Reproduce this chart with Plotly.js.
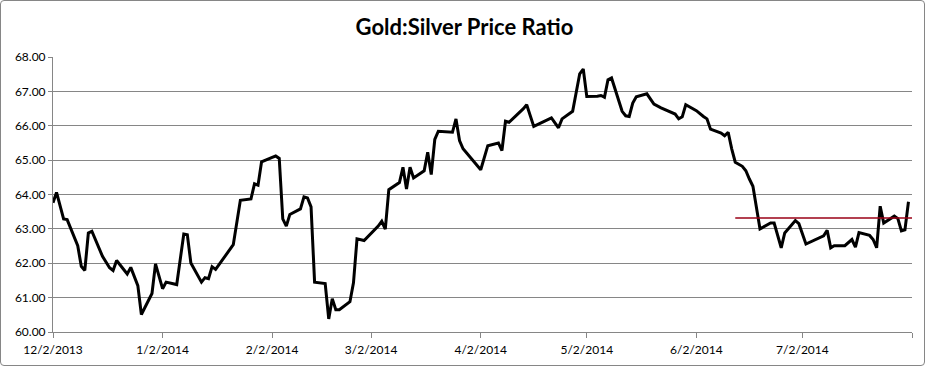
<!DOCTYPE html>
<html>
<head>
<meta charset="utf-8">
<script src="https://cdn.plot.ly/plotly-3.0.1.min.js"></script>
<style>
html,body{margin:0;padding:0;background:#fff;}
#wrap{position:relative;width:929px;height:368px;}
#chart{width:929px;height:368px;}
#frame{position:absolute;left:0;top:0;width:923px;height:364px;border:1px solid #868686;border-radius:4px;pointer-events:none;}
</style>
</head>
<body>
<div id="wrap"><div id="chart"></div><div id="frame"></div></div>
<script>
const dates = [
"2013-12-02","2013-12-03","2013-12-05","2013-12-06","2013-12-09","2013-12-10","2013-12-11","2013-12-12","2013-12-13",
"2013-12-16","2013-12-18","2013-12-19","2013-12-20","2013-12-23","2013-12-24","2013-12-26","2013-12-27","2013-12-30","2013-12-31",
"2014-01-02","2014-01-03","2014-01-06","2014-01-08","2014-01-09","2014-01-10","2014-01-13","2014-01-14","2014-01-15","2014-01-16","2014-01-17",
"2014-01-22","2014-01-24","2014-01-27","2014-01-28","2014-01-29","2014-01-30",
"2014-02-02","2014-02-03","2014-02-04","2014-02-05","2014-02-06","2014-02-07","2014-02-10","2014-02-11","2014-02-12","2014-02-13","2014-02-14",
"2014-02-17","2014-02-18","2014-02-19","2014-02-20","2014-02-21","2014-02-24","2014-02-25","2014-02-26","2014-02-28",
"2014-03-04","2014-03-05","2014-03-06","2014-03-07","2014-03-10","2014-03-11","2014-03-12","2014-03-13","2014-03-14",
"2014-03-17","2014-03-18","2014-03-19","2014-03-20","2014-03-21","2014-03-25","2014-03-26","2014-03-27","2014-03-28",
"2014-04-02","2014-04-04","2014-04-07","2014-04-08","2014-04-09","2014-04-10","2014-04-14","2014-04-15","2014-04-17",
"2014-04-22","2014-04-24","2014-04-25","2014-04-28","2014-04-30","2014-05-01","2014-05-02","2014-05-05","2014-05-06",
"2014-05-07","2014-05-08","2014-05-09","2014-05-12","2014-05-13","2014-05-14","2014-05-15","2014-05-16","2014-05-19",
"2014-05-21","2014-05-23","2014-05-27","2014-05-28","2014-05-29","2014-05-30","2014-06-02","2014-06-04","2014-06-05",
"2014-06-06","2014-06-09","2014-06-10","2014-06-11","2014-06-12","2014-06-13","2014-06-15","2014-06-16","2014-06-17",
"2014-06-18","2014-06-20","2014-06-22","2014-06-23","2014-06-24","2014-06-26","2014-06-27","2014-06-30","2014-07-01",
"2014-07-03","2014-07-08","2014-07-09","2014-07-10","2014-07-11","2014-07-14","2014-07-16","2014-07-17","2014-07-18",
"2014-07-21","2014-07-22","2014-07-23","2014-07-24","2014-07-25","2014-07-28","2014-07-29","2014-07-30","2014-07-31","2014-08-01"
];
const ratio = [
63.76,64.06,63.29,63.27,62.51,61.91,61.79,62.88,62.93,
62.20,61.87,61.79,62.08,61.69,61.88,61.35,60.51,61.12,61.98,
61.26,61.45,61.38,62.85,62.83,62.01,61.45,61.58,61.55,61.90,61.82,
62.54,63.83,63.87,64.31,64.27,64.95,
65.08,65.12,65.05,63.29,63.08,63.42,63.58,63.93,63.90,63.64,61.45,
61.41,60.38,60.97,60.65,60.65,60.88,61.43,62.71,62.66,
63.08,63.22,62.99,64.14,64.35,64.79,64.16,64.79,64.48,
64.69,65.23,64.58,65.60,65.84,65.81,66.20,65.57,65.33,
64.72,65.42,65.50,65.28,66.13,66.10,66.49,66.61,65.98,
66.23,65.94,66.20,66.42,67.51,67.65,66.85,66.86,66.88,
66.83,67.34,67.39,66.42,66.29,66.27,66.66,66.84,66.93,
66.63,66.52,66.34,66.20,66.26,66.61,66.44,66.27,66.20,
65.90,65.79,65.71,65.81,65.33,64.94,64.82,64.69,64.45,
64.24,63.00,63.10,63.17,63.17,62.45,62.88,63.24,63.15,
62.56,62.80,62.96,62.45,62.51,62.51,62.69,62.47,62.89,
62.81,62.69,62.45,63.66,63.17,63.37,63.30,62.94,62.97,63.79
];
const refDates = ["2014-06-13","2014-08-03"];
const refLevel = [63.32,63.32];
const tickDates = ["2013-12-02","2014-01-02","2014-02-02","2014-03-02","2014-04-02","2014-05-02","2014-06-02","2014-07-02","2014-08-02"];
const tickLabels = ["12/2/2013","1/2/2014","2/2/2014","3/2/2014","4/2/2014","5/2/2014","6/2/2014","7/2/2014",""];

const font = "Lato, 'Open Sans', sans-serif";
const traces = [
  {x: dates, y: ratio, type: "scatter", mode: "lines",
   line: {color: "#000000", width: 3, shape: "linear"}, hoverinfo: "skip"},
  {x: refDates, y: refLevel, type: "scatter", mode: "lines",
   line: {color: "#9a0016", width: 1.5}, hoverinfo: "skip"}
];
const layout = {
  width: 929, height: 368,
  margin: {l: 53, r: 17, t: 57, b: 36},
  paper_bgcolor: "#ffffff", plot_bgcolor: "#ffffff",
  showlegend: false,
  title: {text: "<b>Gold:Silver Price Ratio</b>", x: 0.5, xanchor: "center", y: 0.927, yanchor: "middle",
          font: {family: font, size: 22, color: "#000000"}},
  xaxis: {type: "date", range: ["2013-12-02", "2014-08-02"],
          tickmode: "array", tickvals: tickDates, ticktext: tickLabels,
          showgrid: false, showline: true, linecolor: "#868686", linewidth: 1,
          ticks: "outside", ticklen: 5, tickcolor: "#868686", ticklabelstandoff: 2,
          tickfont: {family: font, size: 12, color: "#000000"}, zeroline: false},
  yaxis: {range: [60, 68], dtick: 1, tick0: 60, tickformat: ".2f",
          showgrid: true, gridcolor: "#868686", gridwidth: 1,
          showline: true, linecolor: "#868686", linewidth: 1,
          ticks: "outside", ticklen: 4, tickcolor: "#868686",
          tickfont: {family: font, size: 12, color: "#000000"}, zeroline: false}
};
Plotly.newPlot("chart", traces, layout, {staticPlot: true, displayModeBar: false});
</script>
</body>
</html>
